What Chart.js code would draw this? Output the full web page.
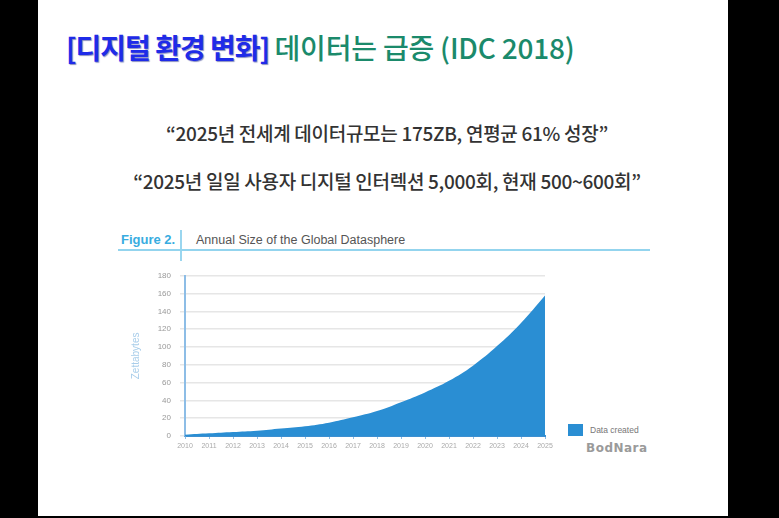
<!DOCTYPE html>
<html>
<head>
<meta charset="utf-8">
<script src="https://cdn.jsdelivr.net/npm/chart.js@4"></script>
<style>
	html, body { margin: 0; padding: 0; background: #000; }
	#slide { position: absolute; left: 38px; top: 0; width: 690px; height: 516px; background: #fff; overflow: hidden; }
	.abs { position: absolute; white-space: nowrap; }
	#title { left: 28px; top: 27px; font: 700 28px "Noto Sans CJK KR"; letter-spacing: -1px; }
	#title .blue { color: #1f2be8; text-shadow: 1px 1px 1px #8a8fc0; }
	#title .green { color: #1b8a6b; font-weight: 500; letter-spacing: -0.2px; }
	.quote { font: 500 19px "Noto Sans CJK KR"; color: #333; width: 690px; text-align: center; left: 4px; letter-spacing: -0.3px; }
	#fig { left: 83px; top: 232px; font: 700 13px "Liberation Sans"; color: #38ace0; }
	#figsep { left: 142px; top: 230px; width: 1.5px; height: 31px; background: #9ad6ef; }
	#figname { left: 158px; top: 233px; font: 12.5px "Liberation Sans"; color: #555; }
	#figline { left: 80px; top: 249px; width: 532px; height: 1.5px; background: #93d4ee; }
	#wrap { left: 72px; top: 262px; width: 450px; height: 200px; }
	#legbox { left: 530px; top: 424px; width: 15px; height: 12px; background: #2a8ed3; }
	#legtxt { left: 552px; top: 425px; font: 8.5px "Liberation Sans"; color: #777; }
	#logo { left: 548px; top: 441px; font: 700 12px "DejaVu Sans"; color: #9a9a9a; letter-spacing: 0.5px; }
</style>
</head>
<body>
<div id="slide">
	<div id="title" class="abs"><span class="blue">[디지털 환경 변화]</span> <span class="green">데이터는 급증 (IDC 2018)</span></div>
	<div class="abs quote" style="top:119px">“2025년 전세계 데이터규모는 175ZB, 연평균 61% 성장”</div>
	<div class="abs quote" style="top:167px">“2025년 일일 사용자 디지털 인터렉션 5,000회, 현재 500~600회”</div>
	<div id="fig" class="abs">Figure 2.</div>
	<div id="figsep" class="abs"></div>
	<div id="figname" class="abs">Annual Size of the Global Datasphere</div>
	<div id="figline" class="abs"></div>
	<div id="wrap" class="abs"><canvas id="chart" width="450" height="200"></canvas></div>
	<div id="legbox" class="abs"></div>
	<div id="legtxt" class="abs">Data created</div>
	<div id="logo" class="abs">BodNara</div>
</div>
<script>
const years = ['2010', '2011', '2012', '2013', '2014', '2015', '2016', '2017', '2018', '2019', '2020', '2021', '2022', '2023', '2024', '2025']
const zettabytes = [1.5, 3, 4.5, 6, 8.5, 11, 15, 21, 28, 38, 49, 62, 79, 101, 127, 158]
const y_ticks = [0, 20, 40, 60, 80, 100, 120, 140, 160, 180]

new Chart("chart", {
	type: 'line',
	data: {
		labels: years,
		datasets: [{
			label: 'Data created',
			data: zettabytes,
			fill: 'origin',
			backgroundColor: '#2a8ed3',
			borderWidth: 0,
			pointRadius: 0,
			tension: 0.4
		}]
	},
	options: {
		responsive: false,
		animation: false,
		layout: { padding: { left: 20, right: 15, top: 12, bottom: 0 } },
		plugins: {
			legend: { display: false },
			tooltip: { enabled: false }
		},
		scales: {
			x: {
				offset: false,
				afterFit: s => { s.height = 26 },
				grid: { display: true, drawOnChartArea: false, color: '#8dbde6', tickLength: 3 },
				border: { color: '#3d8fd0', width: 2 },
				ticks: { color: '#aaa', font: { size: 7, family: 'Liberation Sans' }, maxRotation: 0, autoSkip: false, padding: 3 }
			},
			y: {
				min: 0,
				max: 180,
				afterFit: s => { s.width = 55 },
				afterBuildTicks: s => { s.ticks = y_ticks.map(v => ({ value: v })) },
				title: { display: true, text: 'Zettabytes', color: '#a8cdea', font: { size: 10, family: 'Liberation Sans' }, padding: 0 },
				grid: { color: '#e6e6e6', lineWidth: 1.5, tickLength: 5 },
				border: { color: '#8dbde6', width: 2 },
				ticks: { color: '#999', font: { size: 8, family: 'Liberation Sans' }, padding: 9, autoSkip: false }
			}
		}
	}
})
</script>
</body>
</html>
